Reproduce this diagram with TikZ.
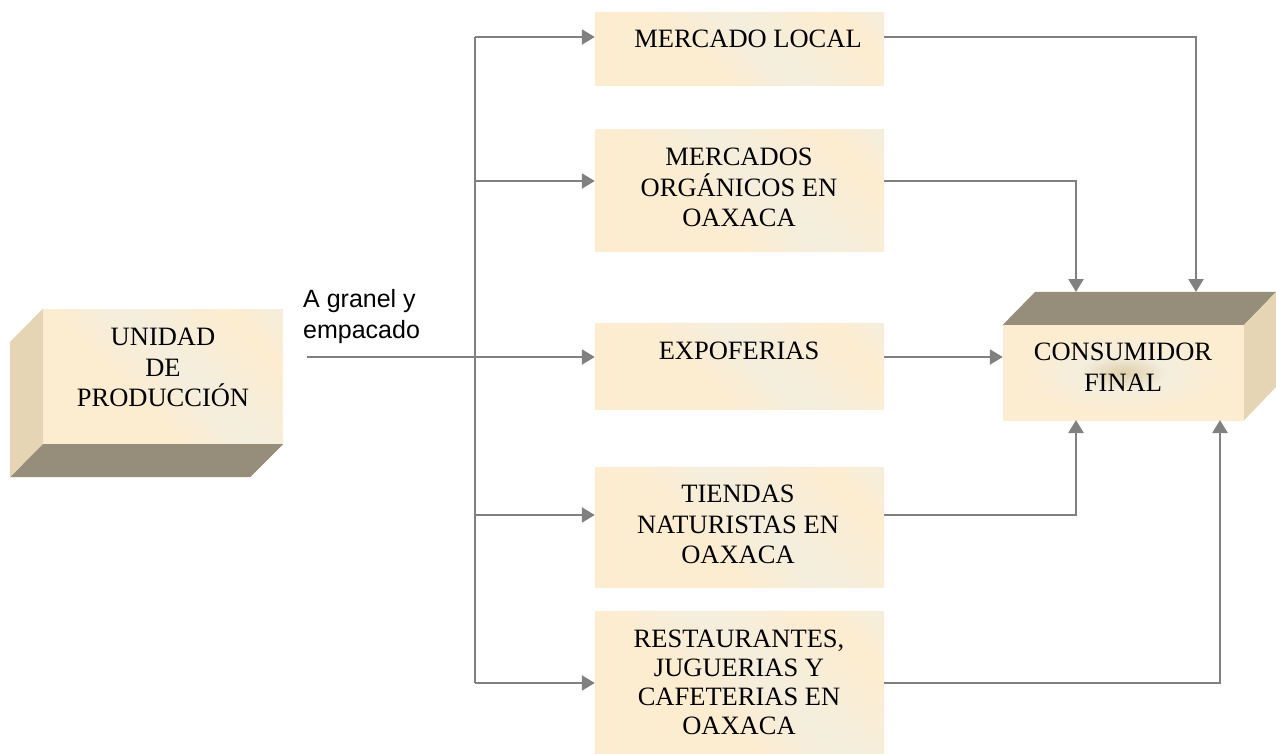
\documentclass[tikz,border=0pt]{standalone}
\usepackage{fontspec}
\setmainfont{Liberation Serif}
\newfontfamily\arialf{Liberation Sans}
\usetikzlibrary{arrows.meta}
\definecolor{creamc}{RGB}{253,237,208}
\definecolor{lightc}{RGB}{244,238,222}
\definecolor{tanc}{RGB}{208,190,150}
\definecolor{darkface}{RGB}{150,141,122}
\definecolor{sideface}{RGB}{229,213,181}
\definecolor{arrc}{RGB}{128,128,128}
\definecolor{centc}{RGB}{222,207,172}
\pgfdeclarehorizontalshading{boxsh}{100bp}{color(0bp)=(tanc); color(14bp)=(creamc); color(40bp)=(creamc); color(55bp)=(lightc); color(75bp)=(creamc); color(86bp)=(lightc); color(100bp)=(tanc)}
\pgfdeclareradialshading{cfsh}{\pgfpoint{0bp}{0bp}}{color(0bp)=(centc); color(9bp)=(lightc); color(22bp)=(creamc); color(50bp)=(creamc)}
\begin{document}
\begin{tikzpicture}[x=1pt,y=-1pt,
  box/.style={shading=boxsh, shading angle=45, minimum width=289pt, inner sep=0pt, draw=none},
  txt/.style={font=\fontsize{26.5}{30.5}\selectfont, align=center, inner sep=0pt, anchor=north},
  sanstxt/.style={font=\arialf\fontsize{25}{31}\selectfont, align=left, inner sep=0pt, anchor=north west},
  conn/.style={draw=arrc, line width=2.2pt},
  arr/.style={conn, -{Triangle[length=13pt,width=15pt]}},
  dface/.style={fill=darkface, draw=none},
  sface/.style={fill=sideface, draw=none}
]
\useasboundingbox (0,0) rectangle (1276,754);

% ---- UNIDAD DE PRODUCCION (3D box) ----
\node[box, minimum width=240pt, minimum height=135pt] (up) at (163,376.5) {};
\fill[sface] (up.north west) -- (up.south west) -- ++(-33,33) -- ++(0,-135) -- cycle;
\fill[dface] (up.south west) -- (up.south east) -- ++(-33,33) -- ++(-240,0) -- cycle;
\node[txt] (upt) at (163,328) {UNIDAD\\DE\\PRODUCCIÓN};

% ---- CONSUMIDOR FINAL (3D box) ----
\node[shading=cfsh, minimum width=241pt, minimum height=95pt, inner sep=0pt] (cf) at (1123.5,372.5) {};
\fill[dface] (cf.north west) -- (cf.north east) -- ++(32,-33) -- ++(-241,0) -- cycle;
\fill[sface] (cf.north east) -- ++(32,-33) -- ++(0,95) -- (cf.south east) -- cycle;
\node[txt] (cft) at (1123,343) {CONSUMIDOR\\FINAL};

% ---- middle boxes ----
\node[box, minimum height=73pt] (ml) at (739.5,49.5) {};
\node[txt] (mlt) at (748,30) {MERCADO LOCAL};
\node[box, minimum height=121pt] (mo) at (739.5,190.5) {};
\node[txt] (mot) at (739,148) {MERCADOS\\ORGÁNICOS EN\\OAXACA};
\node[box, minimum height=86pt] (ex) at (739.5,366) {};
\node[txt] (ext) at (739,342) {EXPOFERIAS};
\node[box, minimum height=120pt] (tn) at (739.5,527) {};
\node[txt] (tnt) at (738,485) {TIENDAS\\NATURISTAS EN\\OAXACA};
\node[box, minimum height=142pt] (rj) at (739.5,682) {};
\node[txt, font=\fontsize{26.5}{29}\selectfont] (rjt) at (739,630) {RESTAURANTES,\\JUGUERIAS Y\\CAFETERIAS EN\\OAXACA};

% ---- label ----
\node[sanstxt] (lbl) at (303,289) {A granel y\\empacado};

% ---- connectors ----
\coordinate (start) at (307,357);
\coordinate (b1) at (475,37);
\coordinate (b2) at (475,181);
\coordinate (b4) at (475,515);
\coordinate (b5) at (475,683);
\coordinate (cfTL) at (1076,292);
\coordinate (cfTR) at (1196,292);
\coordinate (cfBL) at (1076,420);
\coordinate (cfBR) at (1220,420);

\draw[conn] (b1) -- (b5);
\draw[arr] (start) -- (start -| ex.west);
\draw[arr] (b1) -- (b1 -| ml.west);
\draw[arr] (b2) -- (b2 -| mo.west);
\draw[arr] (b4) -- (b4 -| tn.west);
\draw[arr] (b5) -- (b5 -| rj.west);

\draw[arr] (ml.east |- b1) -| (cfTR);
\draw[arr] (mo.east |- b2) -| (cfTL);
\draw[arr] (ex.east |- start) -- (cf.west |- start);
\draw[arr] (tn.east |- b4) -| (cfBL);
\draw[arr] (rj.east |- b5) -| (cfBR);
\end{tikzpicture}
\end{document}
